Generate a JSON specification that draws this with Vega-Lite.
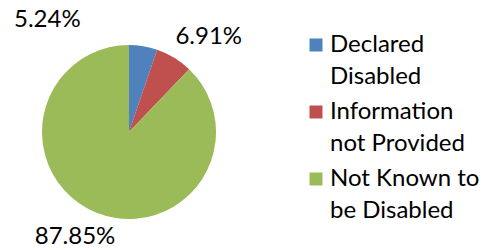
{
  "$schema": "https://vega.github.io/schema/vega-lite/v6.json",
  "width": 258,
  "height": 250,
  "autosize": "none",
  "padding": {"left": 0, "top": 7, "right": 233, "bottom": 0},
  "background": "white",
  "config": {"view": {"stroke": null}, "font": "Lato"},
  "data": {
    "values": [
      {"category": "Declared Disabled", "pct": 5.24, "label": "5.24%"},
      {"category": "Information not Provided", "pct": 6.91, "label": "6.91%"},
      {"category": "Not Known to be Disabled", "pct": 87.85, "label": "87.85%"}
    ]
  },
  "encoding": {
    "theta": {"field": "pct", "type": "quantitative", "stack": true},
    "order": {"field": "pct", "type": "quantitative", "sort": "ascending"}
  },
  "layer": [
    {
      "mark": {"type": "arc", "outerRadius": 87},
      "encoding": {
        "color": {
          "field": "category",
          "type": "nominal",
          "scale": {
            "domain": ["Declared Disabled", "Information not Provided", "Not Known to be Disabled"],
            "range": ["#4F81BD", "#C0504D", "#9BBB59"]
          },
          "legend": {
            "title": null,
            "orient": "none",
            "legendX": 304,
            "legendY": 26,
            "padding": 0,
            "symbolType": "square",
            "symbolSize": 169,
            "symbolStrokeWidth": 0,
            "labelFontSize": 24,
            "labelColor": "#000000",
            "labelLimit": 300,
            "labelOffset": 2,
            "labelBaseline": "top",
            "rowPadding": 11,
            "labelExpr": "datum.label == 'Declared Disabled' ? ['Declared', 'Disabled'] : datum.label == 'Information not Provided' ? ['Information', 'not Provided'] : ['Not Known to', 'be Disabled']",
            "encode": {"labels": {"update": {"lineHeight": {"value": 32}, "dy": {"value": -12}}}}
          }
        }
      }
    },
    {
      "mark": {"type": "text", "radius": 112, "dx": -100, "dy": -2, "fontSize": 24, "color": "#000000"},
      "encoding": {
        "text": {"condition": {"test": "datum.category === 'Declared Disabled'", "field": "label"}, "value": ""}
      }
    },
    {
      "mark": {"type": "text", "radius": 115, "dx": 20, "dy": 3, "fontSize": 24, "color": "#000000"},
      "encoding": {
        "text": {"condition": {"test": "datum.category === 'Information not Provided'", "field": "label"}, "value": ""}
      }
    },
    {
      "mark": {"type": "text", "radius": 110, "dx": -13, "dy": 3, "fontSize": 24, "color": "#000000"},
      "encoding": {
        "text": {"condition": {"test": "datum.category === 'Not Known to be Disabled'", "field": "label"}, "value": ""}
      }
    }
  ]
}
